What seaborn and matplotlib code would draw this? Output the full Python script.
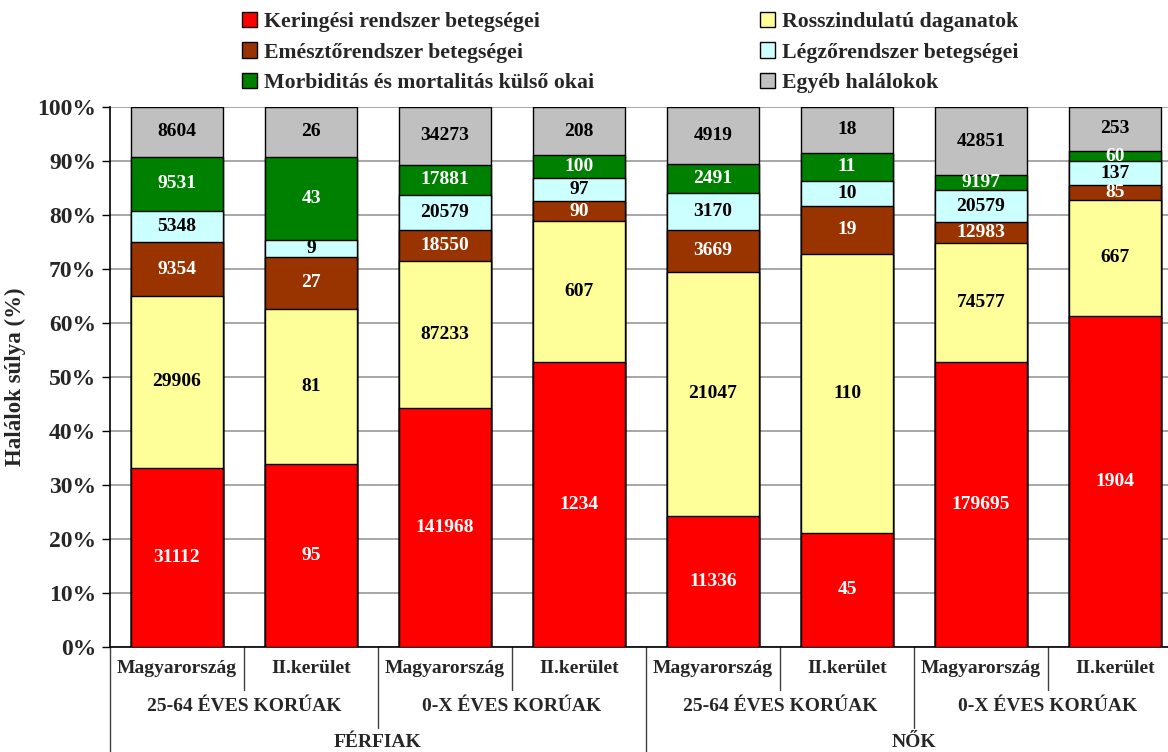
import matplotlib
matplotlib.use("Agg")
import matplotlib.pyplot as plt
import matplotlib.patches as mpatches
import numpy as np
import pandas as pd
import seaborn as sns

# data (counts per cause of death, bars left to right)
bars = ["b0", "b1", "b2", "b3", "b4", "b5", "b6", "b7"]
places = ["Magyarország", "II.kerület"] * 4
ages = ["25-64 ÉVES KORÚAK", "0-X ÉVES KORÚAK"] * 2
sexes = ["FÉRFIAK", "NŐK"]

causes = ["Keringési rendszer betegségei", "Rosszindulatú daganatok",
          "Emésztőrendszer betegségei", "Légzőrendszer betegségei",
          "Morbiditás és mortalitás külső okai", "Egyéb halálokok"]
keringesi = [31112, 95, 141968, 1234, 11336, 45, 179695, 1904]
daganat = [29906, 81, 87233, 607, 21047, 110, 74577, 667]
emeszto = [9354, 27, 18550, 90, 3669, 19, 12983, 85]
legzo = [5348, 9, 20579, 97, 3170, 10, 20579, 137]
kulso = [9531, 43, 17881, 100, 2491, 11, 9197, 60]
egyeb = [8604, 26, 34273, 208, 4919, 18, 42851, 253]

colors = ["#FF0000", "#FFFF99", "#993300", "#CCFFFF", "#008000", "#C0C0C0"]
text_colors = ["white", "black", "white", "black", "white", "black"]

counts = np.array([keringesi, daganat, emeszto, legzo, kulso, egyeb], dtype=float)
pct = counts / counts.sum(axis=0) * 100
cum = np.cumsum(pct, axis=0)

sns.set_style("white")
plt.rcParams["font.family"] = ["Liberation Serif", "DejaVu Serif"]
plt.rcParams["font.weight"] = "bold"

fig = plt.figure(figsize=(11.68, 7.52), dpi=100)
ax = fig.add_axes([110 / 1168, 105 / 752, 1072 / 1168, 540 / 752])

# draw stacked bars back to front (cumulative heights)
for i in range(len(causes) - 1, -1, -1):
    df = pd.DataFrame({"bar": bars, "val": cum[i]})
    sns.barplot(data=df, x="bar", y="val", order=bars, color=colors[i],
                saturation=1, width=0.68, edgecolor="black", linewidth=1,
                ax=ax, zorder=3)

# value labels
for i in range(len(causes)):
    for j in range(len(bars)):
        mid = cum[i, j] - pct[i, j] / 2
        ax.text(j, mid, f"{int(counts[i, j])}", ha="center", va="center",
                fontsize=14, fontweight="bold", color=text_colors[i], zorder=5)

ax.set_xlim(-0.5, 7.5)
ax.set_ylim(0, 100)
ax.set_yticks(np.arange(0, 101, 10))
ax.set_yticklabels([f"{v}%" for v in range(0, 101, 10)], fontsize=17, fontweight="bold")
ax.yaxis.grid(True, color="#A0A0A0", linewidth=1.3, zorder=0)
ax.set_axisbelow(True)
ax.tick_params(axis="y", direction="out", length=6, width=1, color="black", left=True, pad=4)
ax.set_xticks([])
ax.set_xlabel("")
ax.set_ylabel("Halálok súlya (%)", fontsize=16.5, fontweight="bold", labelpad=8)
for s in ["top", "right"]:
    ax.spines[s].set_visible(False)
ax.spines["left"].set_color("black")
ax.spines["bottom"].set_color("black")
ax.spines["left"].set_linewidth(1.2)
ax.spines["bottom"].set_linewidth(1.2)

# multi-level category axis
tr = ax.get_xaxis_transform()
for j, p in enumerate(places):
    ax.text(j, -0.039, p, transform=tr, ha="center", va="center", fontsize=14, fontweight="bold")
for k, a in enumerate(ages):
    ax.text(2 * k + 0.5, -0.11, a, transform=tr, ha="center", va="center", fontsize=14, fontweight="bold")
for k, s in enumerate(sexes):
    ax.text(4 * k + 1.5, -0.177, s, transform=tr, ha="center", va="center", fontsize=14, fontweight="bold")
for x in [0.5, 2.5, 4.5, 6.5]:
    ax.plot([x, x], [0, -0.08], transform=tr, color="#404040", lw=1, clip_on=False)
for x in [1.5, 5.5]:
    ax.plot([x, x], [0, -0.15], transform=tr, color="#404040", lw=1, clip_on=False)
for x in [-0.5, 3.5, 7.5]:
    ax.plot([x, x], [0, -0.3], transform=tr, color="#404040", lw=1, clip_on=False)

# legend
order = [0, 2, 4, 1, 3, 5]
handles = [mpatches.Patch(facecolor=colors[i], edgecolor="black", linewidth=1, label=causes[i]) for i in order]
fig.legend(handles=handles, ncol=2, loc="upper left", bbox_to_anchor=(240 / 1168, 1 - 10 / 752),
           frameon=False, borderpad=0.1, borderaxespad=0, handlelength=0.7, handleheight=0.7,
           handletextpad=0.3, labelspacing=0.46, columnspacing=7.6,
           prop={"family": ["Liberation Serif"], "weight": "bold", "size": 15.7})

fig.savefig("out.png", dpi=100)
